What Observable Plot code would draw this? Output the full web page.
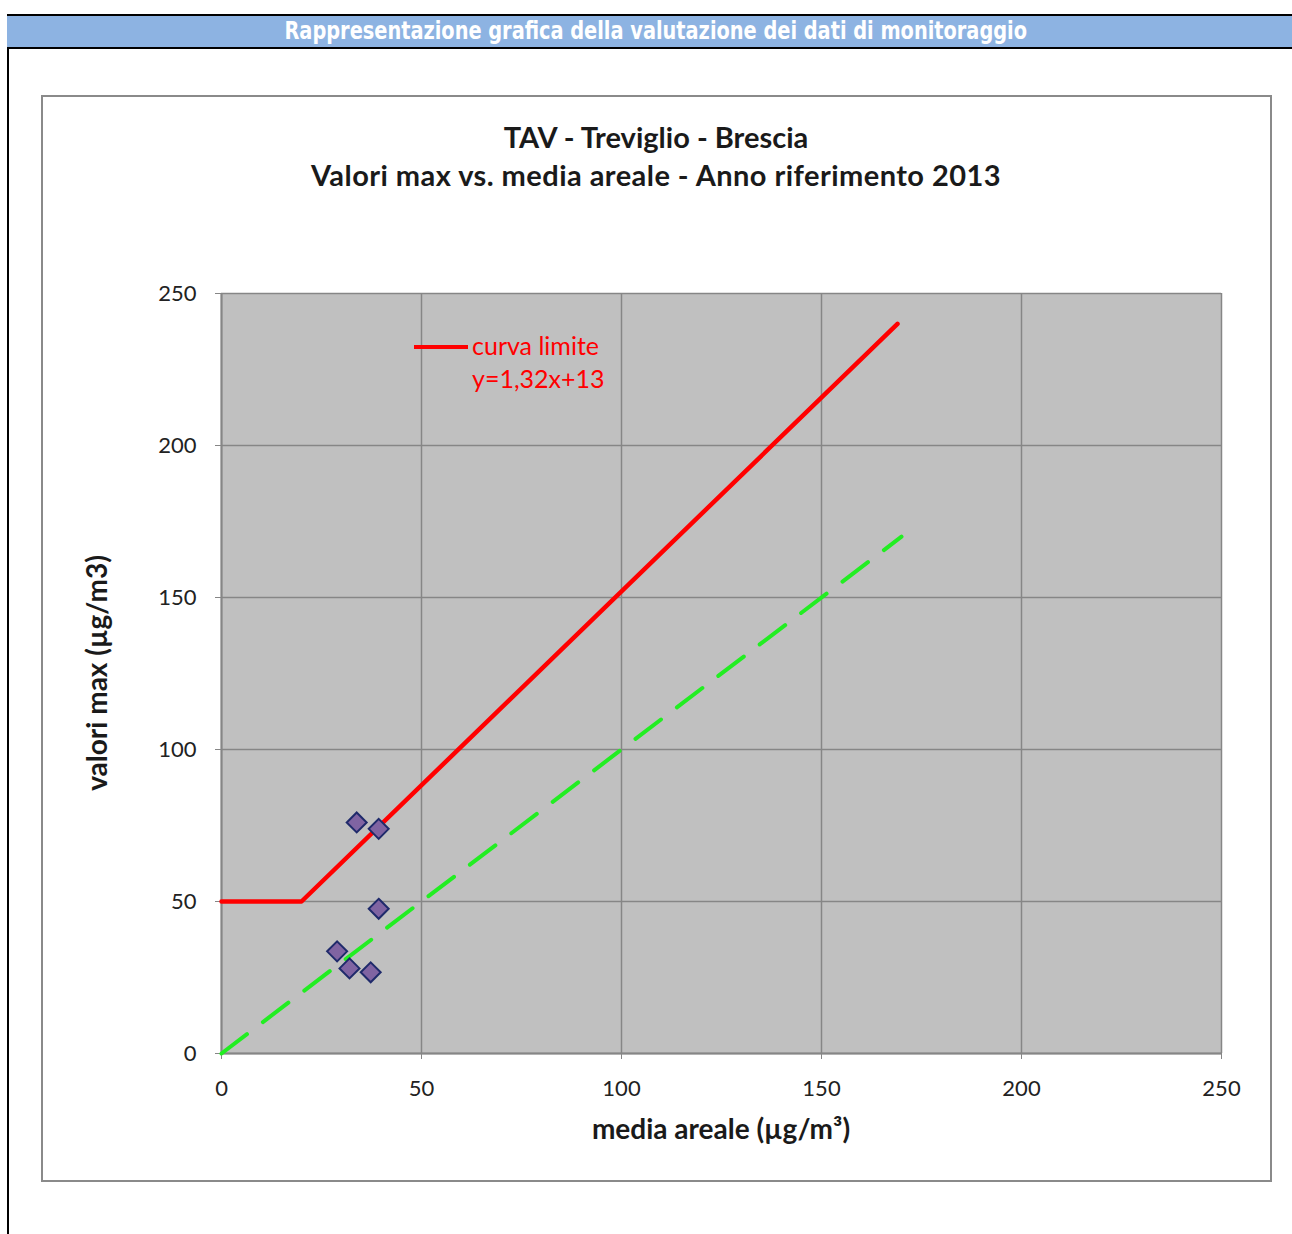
<!DOCTYPE html>
<html>
<head>
<meta charset="utf-8">
<script src="https://cdn.jsdelivr.net/npm/d3@7"></script>
<script src="https://cdn.jsdelivr.net/npm/@observablehq/plot@0.6"></script>
<style>
  html, body { margin: 0; padding: 0; background: #fff; }
  body { position: relative; width: 1292px; height: 1234px; overflow: hidden; font-family: Lato, "Noto Sans", sans-serif; }
  #vline { position: absolute; left: 7px; top: 14px; width: 2px; height: 1220px; background: #000; }
  #header { position: absolute; left: 7px; top: 14px; width: 1290px; height: 31px; background: #8db3e2;
    border-top: 2px solid #000; border-bottom: 2px solid #000; }
  #header .wrap { position: absolute; left: 0; width: 1298px; top: 0px; text-align: center; }
  #header span { display: inline-block; transform: scaleX(0.86); color: #fff;
    font-family: "Liberation Sans Narrow", "DejaVu Sans Condensed", "Roboto", sans-serif; font-weight: bold; font-size: 25px; }
  #box { position: absolute; left: 41px; top: 95px; width: 1227px; height: 1083px; border: 2px solid #8a8a8a; }
  .title { position: absolute; left: 42px; width: 1228px; text-align: center; font-weight: bold; font-size: 29px; color: #1a1a1a; }
  #chart { position: absolute; left: 42px; top: 96px; }
  #xlabel { position: absolute; left: 221px; width: 1000px; top: 1111px; text-align: center; font-weight: bold; font-size: 28px; color: #1a1a1a; }
  #ylabel { position: absolute; left: 96px; top: 673px; transform: translate(-50%, -50%) rotate(-90deg); white-space: nowrap; font-weight: bold; font-size: 28px; color: #1a1a1a; }
  #legend { position: absolute; left: 414px; top: 329px; color: #ff0000; font-size: 25px; line-height: 33px; }
  #legend .sw { position: absolute; left: 0; top: 16px; width: 54px; height: 4px; background: #ff0000; }
  #legend .t { position: absolute; left: 58px; top: 0; white-space: nowrap; }
</style>
</head>
<body>
<div id="vline"></div>
<div id="header"><div class="wrap"><span>Rappresentazione grafica della valutazione dei dati di monitoraggio</span></div></div>
<div id="box"></div>
<div class="title" style="top:119px">TAV - Treviglio - Brescia</div>
<div class="title" style="top:157px; letter-spacing: 0.45px">Valori max vs. media areale - Anno riferimento 2013</div>
<div id="chart"></div>
<div id="xlabel">media areale (µg/m³)</div>
<div id="ylabel">valori max (µg/m3)</div>
<div id="legend"><div class="sw"></div><div class="t">curva limite<br>y=1,32x+13</div></div>
<script>
// Monitoring points (media areale, valori max)
const pointX = [33.8, 39.3, 39.3, 28.9, 32.0, 37.3];
const pointY = [76.0, 73.9, 47.6, 33.6, 28.0, 26.7];
// Limit curve (curva limite)
const limitX = [0, 20, 169];
const limitY = [50, 50, 240];
// Reference line y = x
const refX = [0, 170];
const refY = [0, 170];
// Ticks
const xTicks = [0, 50, 100, 150, 200, 250];
const yTicks = [0, 50, 100, 150, 200, 250];

const points = pointX.map((x, i) => ({x, y: pointY[i]}));
const limit = limitX.map((x, i) => ({x, y: limitY[i]}));
const ref = refX.map((x, i) => ({x, y: refY[i]}));

const chart = Plot.plot({
  width: 1228,
  height: 1084,
  marginLeft: 179,
  marginRight: 49,
  marginTop: 197,
  marginBottom: 127,
  style: { background: "transparent", fontFamily: "Lato, 'Noto Sans', sans-serif" },
  x: { domain: [0, 250] },
  y: { domain: [0, 250] },
  marks: [
    Plot.frame({ fill: "#c0c0c0", stroke: null }),
    Plot.gridX(xTicks, { stroke: "#868686", strokeOpacity: 1, strokeWidth: 1.5 }),
    Plot.gridY(yTicks, { stroke: "#868686", strokeOpacity: 1, strokeWidth: 1.5 }),
    Plot.axisX({ ticks: xTicks, tickSize: 6, tickPadding: 21, fontSize: 22, label: null, stroke: "#868686", color: "#222" }),
    Plot.axisY({ ticks: yTicks, tickSize: 6, tickPadding: 19, fontSize: 22, label: null, stroke: "#868686", color: "#222" }),
    Plot.ruleX([0], { stroke: "#868686", strokeWidth: 2 }),
    Plot.ruleY([0], { stroke: "#868686", strokeWidth: 2 }),
    Plot.line(ref, { x: "x", y: "y", stroke: "#22ee22", strokeWidth: 4, strokeDasharray: "32,20", strokeLinecap: "round" }),
    Plot.line(limit, { x: "x", y: "y", stroke: "#ff0000", strokeWidth: 4.5, strokeLinecap: "round" }),
    Plot.dot(points, { x: "x", y: "y", symbol: "diamond2", r: 9, fill: "#8064a2", stroke: "#1f2a6b", strokeWidth: 2 })
  ]
});
document.getElementById("chart").appendChild(chart);
</script>
</body>
</html>
